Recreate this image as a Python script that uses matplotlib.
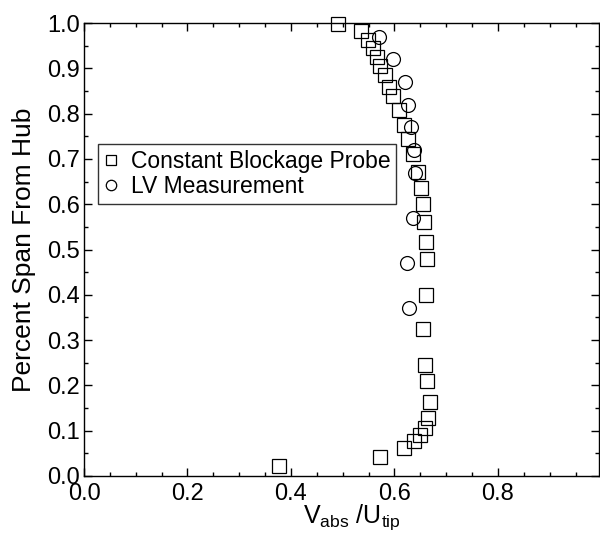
import matplotlib
matplotlib.use("Agg")
import matplotlib.pyplot as plt
from matplotlib.ticker import MultipleLocator, FormatStrFormatter

plt.rcParams['font.family'] = ['Liberation Sans', 'DejaVu Sans']
plt.rcParams['mathtext.fontset'] = 'custom'
plt.rcParams['mathtext.rm'] = 'Liberation Sans'
plt.rcParams['mathtext.it'] = 'Liberation Sans'

# Constant Blockage Probe
cbp_x = [0.376, 0.573, 0.618, 0.638, 0.650, 0.660, 0.664, 0.668, 0.663, 0.659,
         0.656, 0.661, 0.662, 0.661, 0.657, 0.655, 0.651, 0.646, 0.636, 0.626,
         0.618, 0.609, 0.598, 0.590, 0.581, 0.573, 0.566, 0.558, 0.548, 0.535, 0.490]
cbp_y = [0.022, 0.041, 0.061, 0.078, 0.090, 0.107, 0.129, 0.163, 0.210, 0.245,
         0.325, 0.400, 0.480, 0.517, 0.560, 0.600, 0.635, 0.672, 0.710, 0.745,
         0.775, 0.808, 0.840, 0.858, 0.885, 0.905, 0.925, 0.945, 0.963, 0.982, 0.998]

# LV Measurement
lv_x = [0.570, 0.597, 0.620, 0.627, 0.632, 0.638, 0.640, 0.636, 0.625, 0.628]
lv_y = [0.970, 0.920, 0.870, 0.820, 0.770, 0.720, 0.670, 0.570, 0.470, 0.370]

fig = plt.figure(figsize=(6.0, 5.36), dpi=100)
ax = fig.add_axes([0.140, 0.112, 0.858, 0.845])

ax.plot(cbp_x, cbp_y, linestyle='none', marker='s', markersize=9.5,
        markerfacecolor='none', markeredgecolor='black', markeredgewidth=0.9,
        label='Constant Blockage Probe', clip_on=False)
ax.plot(lv_x, lv_y, linestyle='none', marker='o', markersize=10,
        markerfacecolor='none', markeredgecolor='black', markeredgewidth=0.9,
        label='LV Measurement', clip_on=False)

ax.set_xlim(0, 0.995)
ax.set_ylim(0, 1.0)
ax.xaxis.set_major_locator(MultipleLocator(0.2))
ax.xaxis.set_minor_locator(MultipleLocator(0.05))
ax.yaxis.set_major_locator(MultipleLocator(0.1))
ax.yaxis.set_minor_locator(MultipleLocator(0.05))
ax.xaxis.set_major_formatter(FormatStrFormatter('%.1f'))
ax.yaxis.set_major_formatter(FormatStrFormatter('%.1f'))

ax.tick_params(which='both', direction='in', top=True, right=True,
               labelsize=17, width=1.0)
ax.tick_params(which='major', length=6)
ax.tick_params(which='minor', length=3)
ax.tick_params(axis='x', which='major', pad=5)
ax.tick_params(axis='y', which='major', pad=3)
for s in ax.spines.values():
    s.set_linewidth(1.0)

ax.set_xlabel(r'$\mathrm{V_{abs}}$ /$\mathrm{U_{tip}}$', fontsize=18)
ax.xaxis.set_label_coords(0.52, -0.104, transform=ax.transAxes)
ax.xaxis.label.set_va('baseline')
ax.set_ylabel('Percent Span From Hub', fontsize=19, labelpad=8)

leg = ax.legend(loc='upper left', bbox_to_anchor=(0.027, 0.733), fontsize=16.5,
                frameon=True, fancybox=False, edgecolor='black',
                handlelength=0.6, handletextpad=0.6, borderpad=0.25,
                labelspacing=0.1, markerscale=0.75, borderaxespad=0)
leg.get_frame().set_linewidth(1.0)

fig.savefig('out.png', dpi=100)
